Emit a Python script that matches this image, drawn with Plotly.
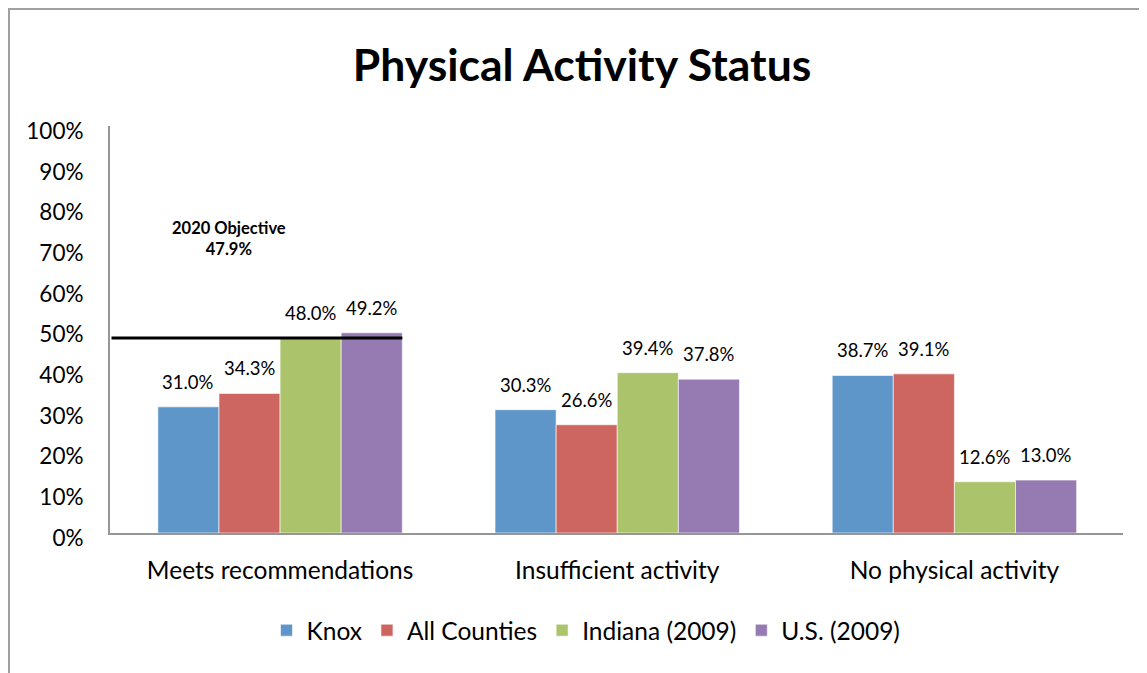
import plotly.graph_objects as go

categories = ["Meets recommendations", "Insufficient activity", "No physical activity"]
series_names = ["Knox", "All Counties", "Indiana (2009)", "U.S. (2009)"]
knox = [0.310, 0.303, 0.387]
all_counties = [0.343, 0.266, 0.391]
indiana = [0.480, 0.394, 0.126]
us = [0.492, 0.378, 0.130]
objective = 0.479
objective_label = "2020 Objective<br>47.9%"
y_ticks = [i / 10 for i in range(11)]
y_tick_labels = [f"{i * 10}%" for i in range(11)]

colors = ["#5F96CA", "#CD6660", "#ABC46B", "#957BB1"]
series = [knox, all_counties, indiana, us]
FONT = "Lato"
bargap = 0.275

# page body adds an 8px margin; figure sized to fit the 1147x673 window
W, H = 1139, 665
L, T, R, B = 102, 118, 24, 140

fig = go.Figure()
for name, vals, col in zip(series_names, series, colors):
    fig.add_trace(go.Bar(
        x=categories, y=vals, name=name,
        marker=dict(color=col, line=dict(color="rgba(255,255,255,0.6)", width=1)),
    ))

# data labels
n = len(series)
w = (1 - bargap) / n
for j, vals in enumerate(series):
    for i, v in enumerate(vals):
        fig.add_annotation(
            x=i + (j - (n - 1) / 2) * w, y=v, xref="x", yref="y",
            text=f"{v * 100:.1f}%", showarrow=False, yshift=25,
            font=dict(family=FONT, size=18.5, color="#000"),
        )

# objective line
fig.add_shape(type="line", xref="x", yref="y",
              x0=-0.5, x1=0 + (1 - bargap) / 2, y0=objective, y1=objective,
              line=dict(color="black", width=3))
fig.add_annotation(x=-0.152, y=0.723, xref="x", yref="y", text=f"<b>{objective_label}</b>",
                   showarrow=False, font=dict(family=FONT, size=16.5, color="#000"))

pw = W - L - R
ph = H - T - B
# chart border
fig.add_shape(type="rect", xref="paper", yref="paper",
              x0=(1 - L) / pw, x1=1.2, y0=-0.6, y1=(ph + T - 1) / ph,
              line=dict(color="#A0A0A0", width=2), fillcolor="rgba(0,0,0,0)", layer="below")

fig.update_layout(
    width=W, height=H,
    margin=dict(l=L, r=R, t=T, b=B, autoexpand=False),
    paper_bgcolor="white", plot_bgcolor="white",
    barmode="group", bargap=bargap, bargroupgap=0,
    font=dict(family=FONT, color="#000"),
    title=dict(text="<b>Physical Activity Status</b>", x=574 / W, xanchor="center",
               y=1 - 57 / H, yanchor="middle", font=dict(family=FONT, size=44.5, color="#000"),
               automargin=False),
    legend=dict(orientation="h", x=(578 - L) / pw, xanchor="center", y=-0.239, yanchor="middle",
                font=dict(family=FONT, size=24.5), itemwidth=30, traceorder="normal"),
    showlegend=True,
)
fig.update_xaxes(showline=True, linecolor="#969696", linewidth=2, ticks="", automargin=False,
                 ticklabelstandoff=15, tickfont=dict(family=FONT, size=24.5))
fig.update_yaxes(range=[0, 1], tickvals=y_ticks, ticktext=y_tick_labels, showgrid=False,
                 zeroline=False, showline=True, linecolor="#969696", linewidth=2, automargin=False,
                 ticks="", ticklabelstandoff=20, ticklabelshift=5, tickfont=dict(family=FONT, size=22.5))

fig.write_html("out.html")
